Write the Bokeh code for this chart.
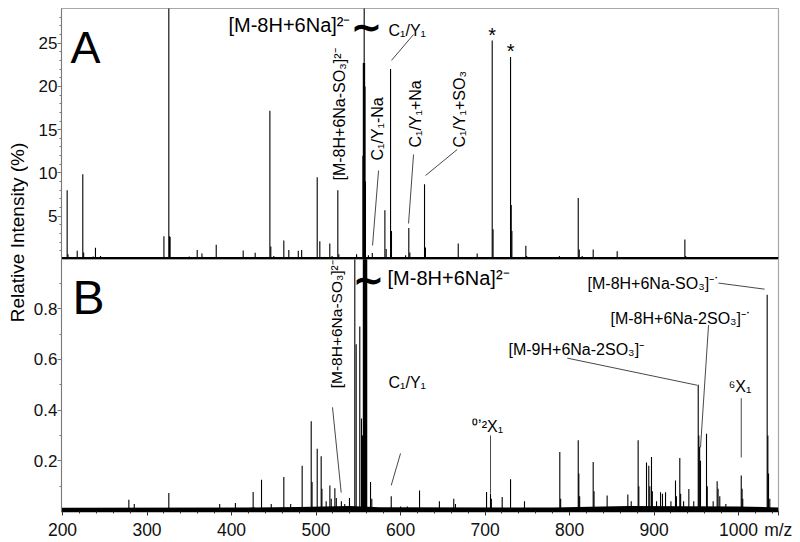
import math
from bokeh.plotting import figure
from bokeh.models import Range1d, FixedTicker, Label, ColumnDataSource
from bokeh.layouts import row, column
from bokeh.embed import file_html
from bokeh.resources import INLINE

# ---------------- data ----------------
# Panel A: relative intensity (%)
mz_a = [205.5, 206.5, 217.4, 224.0, 225.0, 236.3, 239.0, 245.0, 250.0, 260.7, 266.0, 275.0,
        320.0, 325.8, 326.6, 327.3, 347.0, 350.0, 359.4, 365.0, 381.9, 400.0, 413.8, 428.0,
        439.0, 445.4, 446.5, 450.0, 461.9, 467.8, 479.0, 483.0, 487.0, 501.4, 504.5, 510.0,
        516.3, 519.0, 525.8, 527.0, 548.0, 555.5, 556.0, 556.5, 557.0, 557.5, 558.0, 558.5,
        562.0, 566.6, 581.5, 583.0, 588.2, 589.3, 595.0, 606.0, 609.8, 611.0, 628.4, 629.5,
        668.3, 690.7, 708.5, 709.5, 730.2, 731.0, 731.8, 748.3, 749.3, 788.0, 810.3, 811.5,
        815.0, 828.0, 856.4, 857.5, 936.5, 937.5, 1016.0]
int_a = [8.0, 0.6, 1.0, 9.85, 0.8, 0.35, 1.35, 0.4, 0.3, 0.3, 0.3, 0.2,
         2.7, 31.0, 2.7, 2.6, 0.3, 0.35, 1.1, 0.7, 1.7, 0.2, 1.05, 0.77,
         0.2, 17.2, 1.5, 0.4, 2.2, 1.1, 1.0, 1.1, 0.3, 9.5, 2.1, 0.3,
         1.85, 0.4, 8.0, 0.6, 0.6, 12.0, 22.7, 22.7, 31.0, 22.7, 20.0, 9.0,
         0.5, 0.75, 5.7, 1.2, 22.0, 3.3, 0.3, 0.5, 3.65, 0.8, 8.7, 1.4,
         1.85, 0.7, 25.3, 3.5, 23.4, 6.3, 3.3, 1.6, 0.4, 0.4, 7.1, 1.15,
         0.4, 1.15, 0.96, 0.3, 2.3, 0.4, 0.2]

# Panel B: relative intensity (%)
mz_b = [278.5, 284.9, 325.8, 386.0, 404.6, 425.6, 435.5, 447.0, 461.9, 470.0, 483.6, 494.3,
        495.3, 501.4, 506.1, 507.0, 512.0, 516.4, 518.0, 522.3, 524.0, 530.0, 534.0, 539.6,
        545.9, 547.5, 551.8, 553.8, 555.0, 556.0, 556.5, 557.0, 557.5, 558.0, 558.5, 559.0,
        559.5, 560.0, 564.5, 566.0, 589.0, 600.0, 608.0, 622.5, 646.0, 663.0, 665.0, 701.8,
        706.5, 707.5, 720.3, 730.2, 746.7, 788.5, 789.5, 810.3, 811.0, 812.0, 828.0, 829.0,
        844.5, 869.0, 873.0, 881.2, 882.0, 891.1, 893.8, 895.0, 897.0, 898.0, 903.0, 907.7,
        910.0, 913.6, 920.0, 925.4, 926.5, 930.5, 931.5, 935.0, 941.2, 947.0, 952.3, 953.0,
        954.0, 955.0, 962.1, 963.0, 970.0, 974.7, 975.8, 977.8, 985.0, 1003.2, 1004.2, 1005.0,
        1033.9, 1034.7, 1035.5, 1037.0]
int_b = [0.046, 0.03, 0.073, 0.03, 0.034, 0.077, 0.125, 0.03, 0.136, 0.03, 0.18, 0.356,
         0.116, 0.248, 0.218, 0.09, 0.04, 0.103, 0.05, 0.092, 0.053, 0.04, 0.03, 0.053,
         1.5, 0.66, 0.73, 0.367, 0.3, 1.5, 1.5, 1.5, 1.5, 1.5, 1.5, 1.5,
         1.5, 1.5, 0.116, 0.05, 0.06, 0.02, 0.02, 0.083, 0.04, 0.05, 0.03, 0.077,
         0.07, 0.05, 0.057, 0.127, 0.04, 0.235, 0.05, 0.281, 0.15, 0.06, 0.195, 0.08,
         0.063, 0.067, 0.04, 0.281, 0.1, 0.193, 0.18, 0.1, 0.215, 0.08, 0.04, 0.076,
         0.07, 0.076, 0.04, 0.122, 0.06, 0.211, 0.07, 0.04, 0.089, 0.04, 0.5, 0.3,
         0.255, 0.2, 0.307, 0.1, 0.04, 0.119, 0.09, 0.06, 0.03, 0.142, 0.09, 0.05,
         0.855, 0.3, 0.15, 0.05]

# baseline noise envelopes
noise_a_mz = [198.8, 1047.3]
noise_a_lvl = [0.3, 0.3]
noise_b_mz = [198.8, 420.0, 480.0, 540.0, 575.0, 780.0, 870.0, 1000.0, 1047.3]
noise_b_lvl = [0.015, 0.016, 0.018, 0.022, 0.017, 0.016, 0.022, 0.02, 0.016]

x_ticks = [200, 300, 400, 500, 600, 700, 800, 900, 1000]
x_unit_label = "m/z"
y_ticks_a = [5, 10, 15, 20, 25]
y_ticks_b = [0.2, 0.4, 0.6, 0.8]

FONT = "Liberation Sans"
AXIS_GRAY = "#7a7a7a"
X_START, X_END = 198.8, 1047.3
x_range = Range1d(X_START, X_END)


def base_fig(frame_h, y_range, show_x, top, bottom):
    p = figure(frame_width=717, frame_height=frame_h, x_range=x_range, y_range=y_range,
               min_border_left=33, min_border_right=22, min_border_top=top,
               min_border_bottom=bottom,
               output_backend="svg", toolbar_location=None, title=None,
               x_axis_location="below" if show_x else None)
    p.grid.visible = False
    p.outline_line_color = "#a8a8a8"
    p.outline_line_width = 1.2
    p.background_fill_color = "white"
    p.border_fill_color = "white"
    ya = p.yaxis[0]
    ya.axis_line_color = AXIS_GRAY
    ya.major_tick_line_color = AXIS_GRAY
    ya.minor_tick_line_color = AXIS_GRAY
    ya.major_tick_out = 4
    ya.major_tick_in = 0
    ya.minor_tick_out = 2
    ya.minor_tick_in = 0
    ya.major_label_standoff = 0
    ya.major_label_text_font = FONT
    ya.major_label_text_font_size = "17px"
    ya.major_label_text_color = "#111111"
    return p


# ---------------- panel A ----------------
pa = base_fig(251, Range1d(0, 29), False, 8, 0)
pa.yaxis[0].ticker = FixedTicker(ticks=y_ticks_a,
                                 minor_ticks=[v for v in range(1, 29) if v % 5 != 0])
pa.varea(x=noise_a_mz, y1=[0] * len(noise_a_mz), y2=noise_a_lvl, fill_color="black")
src_a = ColumnDataSource(dict(x=mz_a, y0=[0] * len(mz_a), y1=int_a))
pa.segment(x0="x", y0="y0", x1="x", y1="y1", source=src_a, line_color="black", line_width=1.1)

# ---------------- panel B ----------------
pb = base_fig(252, Range1d(0, 0.994), True, 0, 31)
pb.yaxis[0].ticker = FixedTicker(ticks=y_ticks_b, minor_ticks=[0.1, 0.3, 0.5, 0.7, 0.9])
xa = pb.xaxis[0]
# the axis unit sits at the right end of the axis, in the tick-label row
unit_pos = X_END - 0.3
xa.ticker = FixedTicker(ticks=x_ticks + [unit_pos],
                        minor_ticks=[v for v in range(200, 1041, 20) if v % 100 != 0])
xa.major_label_overrides = {unit_pos: x_unit_label}
xa.axis_line_color = "black"
xa.axis_line_width = 1.5
xa.major_tick_line_color = "#333333"
xa.minor_tick_line_color = "#333333"
xa.major_tick_out = 4
xa.major_tick_in = 0
xa.minor_tick_out = 2
xa.minor_tick_in = 0
xa.major_label_standoff = 4
xa.major_label_text_font = FONT
xa.major_label_text_font_size = "17.5px"
xa.major_label_text_color = "#111111"
pb.varea(x=noise_b_mz, y1=[0] * len(noise_b_mz), y2=noise_b_lvl, fill_color="black")
src_b = ColumnDataSource(dict(x=mz_b, y0=[0] * len(mz_b), y1=int_b))
pb.segment(x0="x", y0="y0", x1="x", y1="y1", source=src_b, line_color="black", line_width=1.1)


def lab(p, text, x, y, size="16px", angle=0.0, align="left", font=FONT, style="normal",
        x_units="data", y_units="data", y_offset=0):
    p.add_layout(Label(x=x, y=y, text=text, x_units=x_units, y_units=y_units,
                       angle=angle, angle_units="rad", y_offset=y_offset,
                       text_font=font, text_font_size=size, text_font_style=style,
                       text_align=align, text_baseline="middle", text_color="black"))


UP = math.pi / 2

# panel A annotations
lab(pa, "A", 209.5, 24.44, size="45px")
lab(pa, "[M-8H+6Na]²⁻", 540.8, 27.04, size="20px", align="right")
lab(pa, "∼", 559.5, 26.9, size="38px", align="center", font="DejaVu Sans", style="bold")
lab(pa, "[M-8H+6Na-SO₃]²⁻", 527.8, 9.13, angle=UP)
lab(pa, "C₁/Y₁-Na", 572.8, 11.44, angle=UP)
lab(pa, "C₁/Y₁", 585.8, 26.46)
lab(pa, "C₁/Y₁+Na", 617.8, 12.94, angle=UP)
lab(pa, "C₁/Y₁+SO₃", 669.8, 12.94, angle=UP)
for i in (mz_a.index(708.5), mz_a.index(730.2)):
    lab(pa, "*", mz_a[i], int_a[i], size="20px", align="center", y_offset=6)
lead_a = ColumnDataSource(dict(x0=[574.0, 615.4, 615.4, 667.1], y0=[10.28, 26.0, 12.13, 12.71],
                               x1=[566.9, 589.3, 609.5, 629.6], y1=[1.62, 23.0, 4.16, 9.7]))
pa.segment(x0="x0", y0="y0", x1="x1", y1="y1", source=lead_a, line_color="#333333", line_width=0.9)

# panel B annotations
lab(pb, "B", 211.8, 0.844, size="48px")
lab(pb, "∼", 562.0, 0.912, size="38px", align="center", font="DejaVu Sans", style="bold")
lab(pb, "[M-8H+6Na]²⁻", 584.6, 0.923, size="20px")
lab(pb, "[M-8H+6Na-SO₃]²⁻", 524.3, 0.486, size="15.5px", angle=UP)
lab(pb, "C₁/Y₁", 585.8, 0.510)
lab(pb, "⁰ʼ²X₁", 703.0, 0.334, align="center")
lab(pb, "[M-9H+6Na-2SO₃]⁻", 727.8, 0.640)
lab(pb, "[M-8H+6Na-2SO₃]⁻˙", 848.5, 0.763)
lab(pb, "[M-8H+6Na-SO₃]⁻˙", 821.3, 0.901)
lab(pb, "⁶X₁", 1001.8, 0.494, align="center")
lead_b = ColumnDataSource(dict(
    x0=[519.5, 600.0, 706.5, 797.3, 964.5, 976.3, 1003.2],
    y0=[0.411, 0.229, 0.300, 0.605, 0.735, 0.901, 0.447],
    x1=[529.8, 589.0, 706.5, 951.1, 955.0, 1030.8, 1003.2],
    y1=[0.075, 0.103, 0.071, 0.498, 0.253, 0.877, 0.213]))
pb.segment(x0="x0", y0="y0", x1="x1", y1="y1", source=lead_b, line_color="#333333", line_width=0.9)

# y-axis title in its own narrow strip spanning both panels
py = figure(width=28, height=542, x_range=Range1d(0, 1), y_range=Range1d(0, 1),
            min_border=0, output_backend="svg", toolbar_location=None, title=None,
            x_axis_location=None, y_axis_location=None)
py.grid.visible = False
py.outline_line_color = None
lab(py, "Relative Intensity (%)", 16.5, 310, size="19px", angle=UP, align="center",
    x_units="screen", y_units="screen")

layout = row(py, column(pa, pb, spacing=0), spacing=0)

open("out.html", "w").write(file_html(layout, INLINE))
